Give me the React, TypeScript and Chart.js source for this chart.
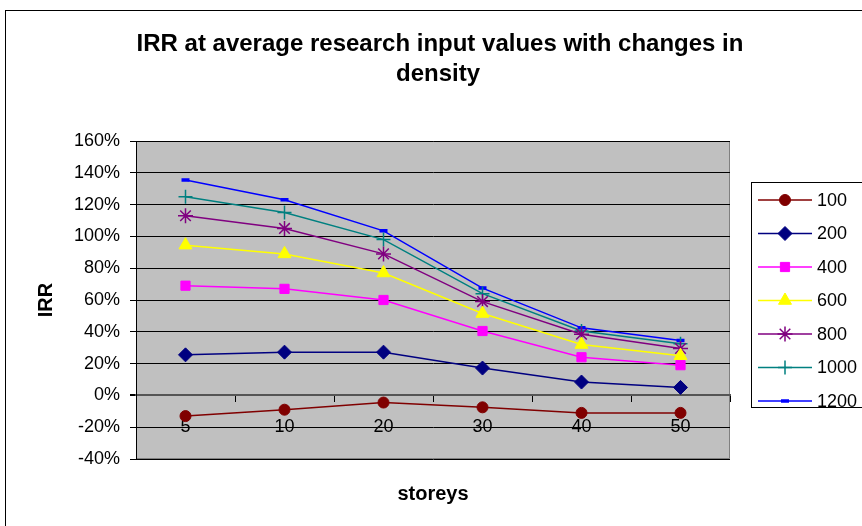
import React, { useEffect, useRef } from "react";
import { Chart, registerables } from "chart.js";
import { drawPoint } from "chart.js/helpers";

Chart.register(...registerables);

const storeys = ["5", "10", "20", "30", "40", "50"];
const seriesNames = ["100", "200", "400", "600", "800", "1000", "1200"];
const irr100 = [-0.13, -0.09, -0.045, -0.075, -0.11, -0.11];
const irr200 = [0.255, 0.272, 0.272, 0.172, 0.084, 0.05];
const irr400 = [0.69, 0.67, 0.60, 0.405, 0.24, 0.19];
const irr600 = [0.945, 0.89, 0.77, 0.515, 0.32, 0.25];
const irr800 = [1.13, 1.05, 0.89, 0.59, 0.385, 0.295];
const irr1000 = [1.25, 1.15, 0.98, 0.64, 0.405, 0.325];
const irr1200 = [1.355, 1.23, 1.035, 0.675, 0.425, 0.345];
const yTicks = { min: -0.4, max: 1.6, step: 0.2 };

const FONT = "'Liberation Sans', Arial, sans-serif";

const styles = [
  { color: "#800000", pointStyle: "circle", radius: 5.5, bw: 1 },
  { color: "#000080", pointStyle: "rectRot", radius: 7, bw: 1 },
  { color: "#FF00FF", pointStyle: "rect", radius: 6.5, bw: 1 },
  { color: "#FFFF00", pointStyle: "triangle", radius: 7.5, bw: 1 },
  { color: "#800080", pointStyle: "star", radius: 7.5, bw: 1.5 },
  { color: "#008080", pointStyle: "cross", radius: 7, bw: 1.5 },
  { color: "#0000FF", pointStyle: "line", radius: 4, bw: 3.5 },
];

const seriesData = [irr100, irr200, irr400, irr600, irr800, irr1000, irr1200];

export default function App() {
  const ref = useRef<HTMLCanvasElement>(null);
  useEffect(() => {
    const canvas = ref.current!;
    const framePlugin = {
      id: "frame",
      beforeDraw(chart: any) {
        const { ctx, chartArea } = chart;
        ctx.save();
        ctx.fillStyle = "#fff";
        ctx.fillRect(0, 0, chart.width, chart.height);
        ctx.strokeStyle = "#000";
        ctx.lineWidth = 1;
        ctx.strokeRect(5.5, 10.5, 900, 600);
        ctx.fillStyle = "#C0C0C0";
        ctx.fillRect(chartArea.left, chartArea.top, chartArea.right - chartArea.left, chartArea.bottom - chartArea.top);
        ctx.strokeStyle = "#808080";
        ctx.beginPath();
        ctx.moveTo(chartArea.left, chartArea.top + 0.5);
        ctx.lineTo(chartArea.right - 0.5, chartArea.top + 0.5);
        ctx.lineTo(chartArea.right - 0.5, chartArea.bottom - 0.5);
        ctx.lineTo(chartArea.left, chartArea.bottom - 0.5);
        ctx.stroke();
        // titles
        ctx.fillStyle = "#000";
        ctx.textAlign = "center";
        ctx.textBaseline = "middle";
        ctx.font = `bold 24px ${FONT}`;
        ctx.fillText("IRR at average research input values with changes in", 440, 44);
        ctx.fillText("density", 438, 74);
        ctx.font = `bold 20px ${FONT}`;
        ctx.fillText("storeys", 433, 494);
        ctx.save();
        ctx.translate(46, 300);
        ctx.rotate(-Math.PI / 2);
        ctx.fillText("IRR", 0, 0);
        ctx.restore();
        ctx.restore();
      },
      afterDraw(chart: any) {
        const { ctx } = chart;
        ctx.save();
        ctx.strokeStyle = "#000";
        ctx.lineWidth = 1;
        ctx.strokeRect(751.5, 182.5, 200, 225);
        ctx.font = `18px ${FONT}`;
        ctx.textAlign = "left";
        ctx.textBaseline = "middle";
        seriesNames.forEach((name, i) => {
          const st = styles[i];
          const y = 200 + i * 33.5;
          ctx.strokeStyle = st.color;
          ctx.lineWidth = 1.5;
          ctx.beginPath();
          ctx.moveTo(758, y);
          ctx.lineTo(812, y);
          ctx.stroke();
          ctx.fillStyle = st.color;
          ctx.strokeStyle = st.color;
          ctx.lineWidth = st.bw;
          drawPoint(ctx, { pointStyle: st.pointStyle, radius: st.radius, borderWidth: st.bw, rotation: 0 } as any, 785, y);
          ctx.fillStyle = "#000";
          ctx.fillText(name, 817, y + 1);
        });
        ctx.restore();
      },
    };

    const chart = new Chart(canvas, {
      type: "line",
      data: {
        labels: storeys,
        datasets: seriesNames.map((name, i) => ({
          label: name,
          data: seriesData[i],
          borderColor: styles[i].color,
          backgroundColor: styles[i].color,
          pointBackgroundColor: styles[i].color,
          pointBorderColor: styles[i].color,
          pointStyle: styles[i].pointStyle as any,
          pointRadius: styles[i].radius,
          pointBorderWidth: styles[i].bw,
          borderWidth: 1.5,
          tension: 0,
          fill: false,
        })),
      },
      options: {
        responsive: false,
        animation: false,
        devicePixelRatio: 1,
        layout: { padding: { left: 0, top: 141, right: 132, bottom: 67 } },
        plugins: { legend: { display: false }, title: { display: false }, tooltip: { enabled: false } },
        scales: {
          x: {
            type: "category",
            offset: true,
            position: { y: 0 } as any,
            grid: { display: true, offset: true, drawOnChartArea: false, drawTicks: true, tickLength: 6, color: "#000", lineWidth: 1 },
            border: { display: true, color: "#555", width: 2 },
            ticks: { color: "#000", font: { family: FONT, size: 18 }, padding: 15, maxRotation: 0, autoSkip: false },
          },
          y: {
            type: "linear",
            min: yTicks.min,
            max: yTicks.max,
            afterFit(scale: any) {
              scale.width = 136;
            },
            grid: {
              color: (c: any) => (c.tick && Math.abs(c.tick.value) < 1e-9 ? "#555" : "#000"),
              lineWidth: (c: any) => (c.tick && Math.abs(c.tick.value) < 1e-9 ? 2 : 1),
              drawTicks: true,
              tickLength: 6,
              tickColor: "#000",
            },
            border: { display: true, color: "#000", width: 1 },
            ticks: {
              stepSize: yTicks.step,
              color: "#000",
              font: { family: FONT, size: 18 },
              padding: 10,
              callback: (v: any) => Math.round(Number(v) * 100) + "%",
            },
          },
        },
      },
      plugins: [framePlugin],
    });
    return () => chart.destroy();
  }, []);
  return (
    <div style={{ position: "absolute", left: 0, top: 0, width: 862, height: 526 }}>
      <canvas ref={ref} width={862} height={526} style={{ display: "block" }} />
    </div>
  );
}
